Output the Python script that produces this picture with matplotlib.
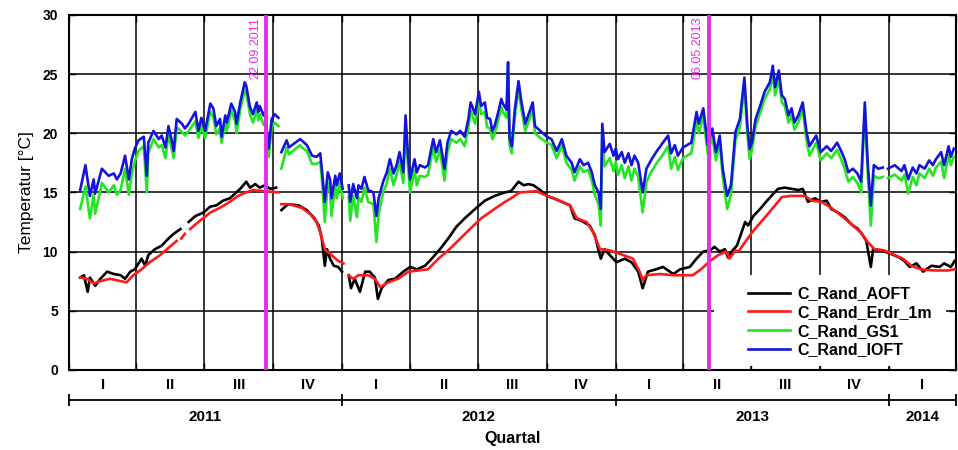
import numpy as np
import pandas as pd
import matplotlib
matplotlib.use("Agg")
import matplotlib.pyplot as plt
import matplotlib.dates as mdates
from matplotlib.patches import Rectangle

plt.rcParams["font.family"] = ["Liberation Sans", "DejaVu Sans"]

nan = np.nan
START = np.datetime64("2011-01-01")
END = np.datetime64("2014-04-01")

# days since 01.01.2011, daily means
ioft_day = [15, 22, 28, 33, 35, 44, 53, 60, 64, 69,
            75, 80, 84, 88, 93, 100, 104, 106, 113, 120,
            124, 129, 133, 137, 140, 144, 151, 155, 160, 169,
            173, 177, 182, 189, 193, 197, 202, 204, 209, 211,
            217, 222, 224, 229, 235, 237, 242, 246, 251, 253,
            255, 260, 262, 267, 271, 275, 280, 282, 284, 291,
            294, 309, 311, 318, 325, 331, 336, 338, 342, 346,
            349, 351, 356, 358, 362, 366, 370, 374, 376, 380,
            385, 387, 391, 395, 400, 407, 411, 414, 420, 425,
            429, 434, 438, 442, 447, 450, 453, 456, 462, 465,
            469, 476, 480, 487, 491, 496, 502, 506, 511, 518,
            523, 529, 534, 537, 543, 548, 551, 556, 559, 563,
            566, 569, 574, 578, 580, 585, 587, 589, 592, 596,
            601, 605, 610, 620, 623, 630, 639, 645, 652, 659,
            665, 672, 676, 683, 688, 694, 699, 703, 708, 711,
            713, 716, 723, 728, 731, 734, 739, 743, 748, 752,
            756, 761, 767, 772, 779, 785, 794, 801, 805, 810,
            814, 821, 832, 839, 842, 848, 854, 860, 865, 870,
            874, 880, 885, 891, 897, 903, 907, 910, 913, 918,
            924, 930, 937, 941, 944, 949, 953, 957, 962, 966,
            970, 975, 981, 986, 990, 999, 1005, 1013, 1019, 1027,
            1033, 1037, 1042, 1048, 1054, 1059, 1064, 1068, 1072, 1076,
            1082, 1088, 1091, 1095, 1104, 1113, 1117, 1122, 1128, 1133,
            1137, 1144, 1150, 1155, 1159, 1166, 1170, 1176, 1179, 1183]

ioft = [15.2, 17.3, 14.7, 16.1, 14.9, 17.0, 16.4, 16.6, 16.1, 16.6,
        18.1, 16.1, 17.8, 18.7, 19.4, 19.7, 16.4, 19.2, 20.2, 19.5,
        19.8, 18.8, 20.6, 19.5, 18.5, 21.2, 20.8, 20.4, 20.8, 21.8,
        20.2, 21.3, 20.2, 22.5, 22.1, 20.6, 21.2, 19.7, 21.5, 20.9,
        22.5, 21.8, 20.8, 22.6, 24.3, 24.0, 22.2, 21.6, 22.6, 21.8,
        22.3, 21.5, 21.8, 18.7, 21.2, 21.6, 21.3, nan, 18.4, 19.4,
        18.8, 19.5, 19.4, 19.0, 18.1, 18.0, 18.3, 17.0, 14.2, 16.7,
        16.1, 14.5, 16.4, 15.6, 16.6, 15.3, nan, 15.6, 14.2, 15.7,
        14.5, 15.6, 15.3, 16.3, 15.2, 15.0, 13.0, 14.5, 15.9, 16.7,
        17.8, 16.6, 17.3, 18.4, 16.7, 21.5, 18.4, 16.1, 17.8, 16.7,
        17.3, 17.1, 17.3, 19.5, 18.4, 19.4, 17.0, 19.2, 20.2, 19.9,
        20.2, 19.7, 21.2, 22.6, 21.6, 23.5, 22.3, 22.6, 21.3, 21.2,
        20.2, 20.6, 21.8, 22.9, 22.5, 22.0, 26.0, 19.6, 18.9, 22.0,
        24.4, 22.6, 20.8, 22.6, 20.6, 20.2, 19.7, 19.5, 18.5, 19.5,
        18.1, 17.5, 16.7, 17.8, 17.3, 17.5, 16.7, 15.6, 15.0, 13.6,
        20.8, 18.4, 19.1, 18.1, 18.7, 17.8, 18.4, 17.5, 18.3, 17.3,
        18.1, 17.5, 15.0, 17.0, 17.8, 18.4, 19.2, 19.8, 18.3, 19.0,
        18.1, 18.8, 19.2, 21.8, 20.8, 22.1, 19.0, 20.4, 18.4, 19.8,
        17.0, 14.7, 15.6, 20.1, 21.2, 24.7, 20.6, 18.7, 19.2, 21.2,
        22.3, 23.5, 24.3, 25.7, 23.9, 25.3, 23.2, 22.9, 21.5, 22.1,
        20.9, 21.5, 22.6, 20.1, 18.9, 19.8, 18.4, 18.9, 18.5, 19.2,
        18.4, 17.8, 16.7, 17.0, 16.6, 15.9, 22.6, 17.3, 13.9, 17.3,
        17.0, 17.1, nan, 17.0, 17.3, 16.8, 17.3, 16.1, 17.1, 16.6,
        17.3, 17.0, 17.7, 17.3, 17.8, 18.4, 17.3, 18.9, 18.0, 18.7]

gs1 = [13.6, 15.5, 12.8, 14.8, 13.2, 15.8, 15.0, 15.6, 14.8, 15.2,
       17.0, 14.8, 16.6, 17.6, 18.5, 18.9, 15.0, 18.3, 19.5, 18.8,
       19.0, 17.9, 19.9, 18.8, 17.9, 20.5, 20.1, 19.8, 20.2, 21.0,
       19.6, 20.6, 19.6, 21.8, 21.4, 19.9, 20.4, 19.2, 20.9, 20.2,
       21.9, 21.1, 20.0, 22.0, 23.6, 23.4, 21.6, 20.9, 21.9, 21.1,
       21.6, 20.7, 21.0, 18.0, 20.5, 20.9, 20.6, nan, 17.0, 18.8,
       18.2, 19.0, 18.8, 18.5, 17.4, 17.4, 17.6, 16.2, 12.5, 15.8,
       15.2, 13.0, 15.6, 14.5, 15.8, 14.5, nan, 14.6, 12.6, 14.7,
       12.9, 14.6, 14.2, 15.4, 14.2, 14.0, 10.8, 13.2, 15.0, 15.8,
       17.0, 15.6, 16.5, 17.6, 15.8, 20.8, 17.5, 15.0, 16.9, 15.6,
       16.4, 16.3, 16.5, 18.8, 17.6, 18.6, 16.0, 18.4, 19.5, 19.2,
       19.5, 18.9, 20.5, 21.9, 20.8, 22.8, 21.6, 21.8, 20.5, 20.4,
       19.5, 19.9, 21.1, 22.2, 21.8, 21.3, 25.3, 19.0, 18.3, 21.3,
       23.7, 22.0, 20.2, 22.0, 20.0, 19.6, 19.2, 19.0, 17.9, 19.0,
       17.5, 16.9, 16.0, 17.2, 16.7, 16.9, 16.0, 14.8, 14.0, 12.2,
       20.0, 17.2, 17.9, 16.8, 17.6, 16.5, 17.3, 16.2, 17.2, 16.0,
       17.0, 16.3, 13.3, 15.9, 16.8, 17.4, 18.2, 18.9, 17.0, 18.0,
       16.9, 17.9, 18.3, 21.0, 20.0, 21.4, 18.3, 19.7, 17.7, 19.2,
       16.3, 13.6, 14.8, 19.4, 20.5, 24.0, 19.9, 17.8, 18.5, 20.6,
       21.7, 22.9, 23.7, 25.0, 23.2, 24.6, 22.6, 22.3, 20.9, 21.5,
       20.3, 20.9, 22.0, 19.4, 18.1, 19.2, 17.7, 18.3, 17.9, 18.6,
       17.7, 17.0, 15.9, 16.3, 15.8, 15.0, 21.9, 16.5, 12.2, 16.4,
       16.2, 16.3, nan, 16.2, 16.5, 16.0, 16.5, 14.9, 16.3, 15.6,
       16.6, 16.2, 17.0, 16.4, 17.1, 17.6, 16.2, 18.2, 17.3, 18.0]

aoft_day = [15, 20, 25, 28, 35, 42, 51, 60, 69, 75,
            82, 88, 97, 102, 106, 115, 124, 133, 140, 149,
            154, 160, 169, 180, 189, 197, 206, 215, 222, 229,
            237, 242, 249, 255, 262, 269, 277, 280, 284, 291,
            294, 307, 318, 327, 334, 338, 342, 345, 349, 354,
            360, 365, 370, 374, 377, 382, 389, 396, 402, 409,
            413, 418, 427, 436, 447, 456, 465, 476, 485, 496,
            507, 518, 529, 543, 556, 569, 583, 591, 601, 608,
            614, 621, 630, 639, 648, 659, 670, 676, 685, 696,
            703, 708, 711, 716, 723, 732, 743, 752, 761, 767,
            774, 785, 794, 808, 817, 830, 839, 848, 857, 863,
            870, 877, 881, 886, 893, 904, 908, 915, 924, 932,
            939, 948, 957, 966, 975, 981, 988, 997, 1006, 1013,
            1019, 1028, 1037, 1046, 1055, 1061, 1066, 1072, 1075, 1086,
            1099, 1110, 1117, 1124, 1133, 1142, 1153, 1164, 1170, 1179,
            1184]

aoft = [7.8, 8.0, 6.6, 7.8, 7.1, 7.7, 8.3, 8.1, 8.0, 7.7,
        8.3, 8.5, 9.4, 8.8, 9.7, 10.2, 10.5, 11.1, 11.5, 11.9,
        nan, 12.5, 13.0, 13.3, 13.8, 13.9, 14.3, 14.5, 14.9, 15.3,
        15.9, 15.4, 15.7, 15.4, 15.6, 15.3, 15.4, nan, 13.5, 13.9,
        14.0, 13.9, 13.5, 12.9, 12.2, 11.1, 8.8, 10.2, 9.4, 8.8,
        8.7, 8.3, nan, 8.0, 6.9, 7.7, 6.6, 8.3, 8.3, 7.8,
        6.0, 6.9, 7.6, 7.7, 8.3, 8.7, 8.5, 8.8, 9.4, 10.2,
        11.1, 12.1, 12.8, 13.6, 14.3, 14.7, 15.0, 15.1, 15.9, 15.6,
        15.7, 15.6, 15.2, 14.7, 14.5, 14.2, 13.9, 12.8, 12.6, 12.2,
        11.4, 10.1, 9.4, 10.2, 9.7, 9.1, 9.4, 9.1, 8.3, 6.9,
        8.3, 8.5, 8.7, 8.1, 8.5, 8.7, 9.4, 10.0, 10.1, 10.4,
        10.0, 10.2, 9.5, 10.0, 10.5, 12.5, 12.2, 13.0, 13.6, 14.2,
        14.7, 15.3, 15.4, 15.3, 15.2, 15.3, 14.2, 14.5, 14.2, 14.3,
        13.6, 13.3, 12.9, 12.3, 11.9, 11.4, 10.9, 8.7, 10.2, 10.1,
        9.8, 9.5, 9.2, 8.7, 9.0, 8.3, 8.8, 8.7, 9.0, 8.7,
        9.2]

erdr_day = [15, 24, 33, 42, 55, 69, 77, 86, 97, 108,
            122, 131, 144, 147, 150, 155, 158, 162, 175, 189,
            202, 215, 226, 237, 246, 260, 280, 282, 284, 294,
            311, 322, 331, 336, 342, 351, 360, 367, 370, 374,
            380, 387, 400, 409, 416, 427, 440, 454, 467, 480,
            494, 507, 520, 536, 551, 569, 583, 591, 598, 603,
            625, 639, 656, 670, 679, 692, 701, 710, 723, 741,
            754, 763, 767, 772, 790, 808, 834, 845, 857, 868,
            879, 883, 891, 895, 913, 921, 932, 944, 953, 964,
            984, 993, 1006, 1019, 1033, 1046, 1059, 1068, 1077, 1090,
            1104, 1115, 1126, 1139, 1157, 1175, 1184]

erdr = [7.8, 7.7, 7.3, 7.5, 7.7, 7.5, 7.4, 8.0, 8.5, 9.1,
        9.7, 10.2, 10.9, nan, 11.1, 11.5, nan, 11.9, 12.6, 13.3,
        13.7, 14.2, 14.7, 15.0, 15.2, 15.1, 15.0, nan, 14.0, 14.0,
        13.7, 13.2, 12.5, 11.6, 10.2, 9.7, 9.2, 9.0, nan, 8.0,
        7.7, 8.0, 8.0, 7.7, 7.0, 7.4, 7.7, 8.3, 8.4, 8.5,
        9.4, 10.1, 10.9, 11.9, 12.8, 13.6, 14.2, 14.5, 14.8, 15.0,
        15.1, 14.7, 14.3, 13.9, 12.8, 12.5, 11.6, 10.2, 10.1, 9.7,
        9.4, 8.3, 7.6, 8.0, 8.1, 8.0, 8.0, 8.5, 9.2, 9.7,
        10.0, 9.4, 10.1, 10.0, 11.6, 12.2, 13.0, 13.9, 14.6, 14.7,
        14.7, 14.3, 14.2, 13.7, 13.0, 12.3, 11.6, 10.8, 10.2, 10.1,
        9.7, 9.4, 8.8, 8.5, 8.4, 8.4, 8.5]

events = ["2011-09-22", "2013-05-06"]
event_labels = ["22.09.2011", "06.05.2013"]
quarter_names = ["I", "II", "III", "IV"]
years = ["2011", "2012", "2013", "2014"]
year_edges = ["2011-01-01", "2012-01-01", "2013-01-01", "2014-01-01", "2014-04-01"]

MAGENTA = "#e42ee4"
LW = 1.9


def as_dates(days):
    return START + np.asarray(days, dtype=int).astype("timedelta64[D]")


fig = plt.figure(figsize=(9.58, 4.5), dpi=100)
ax = fig.add_axes([0.072, 0.178, 0.926, 0.789])

l_aoft, = ax.plot(as_dates(aoft_day), aoft, color="black", lw=LW, zorder=3)
l_erdr, = ax.plot(as_dates(erdr_day), erdr, color="#ff1a1a", lw=LW, zorder=3)
l_gs1, = ax.plot(as_dates(ioft_day), gs1, color="#22e622", lw=LW, zorder=3)
l_ioft, = ax.plot(as_dates(ioft_day), ioft, color="#1414dc", lw=LW, zorder=3)

for ev, lbl in zip(events, event_labels):
    d = np.datetime64(ev)
    ax.axvline(d, color=MAGENTA, lw=2.8, zorder=4)
    ax.annotate(lbl, xy=(mdates.date2num(d), 30), xytext=(-4, -1.5),
                textcoords="offset points", rotation=90, ha="right", va="top",
                color=MAGENTA, fontsize=9)

ax.set_xlim(START, END)
ax.set_ylim(0, 30)

# quarter grid and labels
q_starts = pd.date_range("2011-01-01", "2014-04-01", freq="QS")
q_num = mdates.date2num(q_starts.to_pydatetime())
q_mid = (q_num[:-1] + q_num[1:]) / 2
q_labels = (quarter_names * 4)[:len(q_mid)]
ax.set_xticks(q_num)
ax.set_xticklabels([])
ax.set_xticks(q_mid, minor=True)
ax.set_xticklabels(q_labels, minor=True, fontweight="bold", fontsize=10.5)
ax.tick_params(axis="x", which="minor", length=0, pad=6)

ax.set_yticks(range(0, 31, 5))
ax.set_yticklabels([str(v) for v in range(0, 31, 5)], fontweight="bold", fontsize=10)
ax.tick_params(which="major", direction="in", top=True, right=True,
               length=5, width=1.0)
ax.tick_params(axis="y", pad=8)
ax.set_ylabel("Temperatur [°C]", fontsize=12.5, labelpad=6)

ax.grid(True, which="major", color="black", lw=1.1)
ax.set_axisbelow(True)
for sp in ax.spines.values():
    sp.set_linewidth(1.5)

# white panel behind the legend, hides the grid there
ax.add_patch(Rectangle((0.727, 0.012), 0.262, 0.255, transform=ax.transAxes,
                       facecolor="white", edgecolor="none", zorder=2))

# year axis below the quarters
y_num = mdates.date2num(pd.to_datetime(year_edges).to_pydatetime())
y_mid = (y_num[:-1] + y_num[1:]) / 2
sec = ax.secondary_xaxis(-0.0845)
sec.set_xticks(y_num)
sec.set_xticklabels([])
sec.set_xticks(y_mid, labels=years, minor=True, fontweight="bold", fontsize=11)
sec.tick_params(which="major", direction="inout", length=9, width=1.3)
sec.tick_params(which="minor", length=0, pad=7)
sec.spines["bottom"].set_linewidth(1.3)
sec.set_xlabel("Quartal", fontsize=11.5, fontweight="bold", labelpad=5)

ax.legend([l_aoft, l_erdr, l_gs1, l_ioft],
          ["C_Rand_AOFT", "C_Rand_Erdr_1m", "C_Rand_GS1", "C_Rand_IOFT"],
          loc="lower right", bbox_to_anchor=(0.985, 0.004),
          prop={"weight": "bold", "size": 11.5}, handlelength=2.6,
          handletextpad=0.45, labelspacing=0.23, borderpad=0.2,
          frameon=True, fancybox=False, framealpha=1,
          edgecolor="white", facecolor="white")

fig.savefig("out.png", dpi=100)
